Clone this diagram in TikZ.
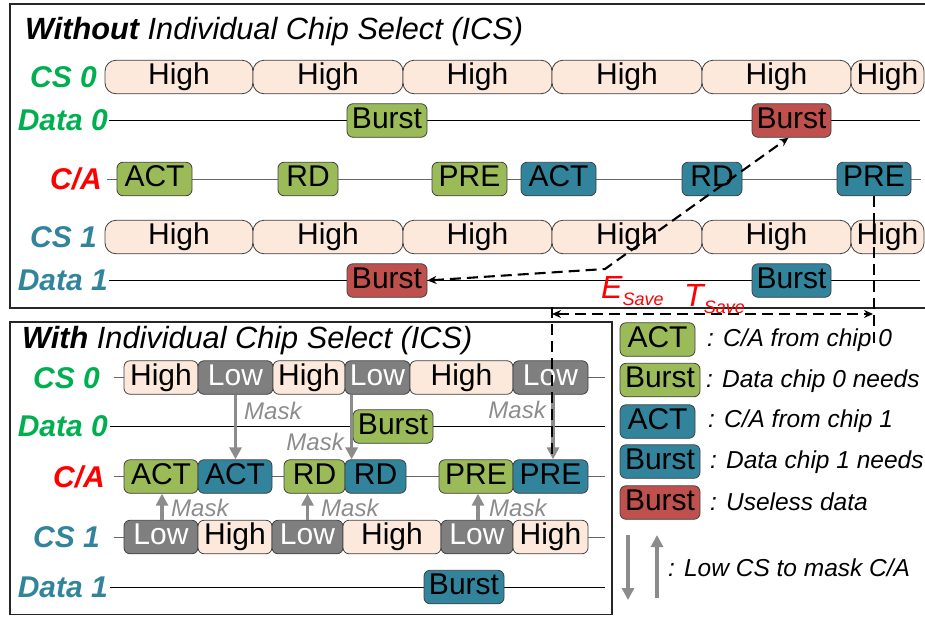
\documentclass[tikz,border=0pt]{standalone}
\usepackage{fontspec}
\setmainfont{Liberation Sans}
\usetikzlibrary{arrows.meta}

\definecolor{peach}{HTML}{FCE9DB}
\definecolor{chipolive}{HTML}{9BBB59}
\definecolor{chipteal}{HTML}{31849B}
\definecolor{chipred}{HTML}{C0504D}
\definecolor{lowgray}{HTML}{7F7F7F}
\definecolor{maskgray}{HTML}{8C8C8C}
\definecolor{csgreen}{HTML}{00B050}
\definecolor{boxline}{HTML}{404040}
\definecolor{framecol}{HTML}{262626}

\tikzset{
  sig/.style={draw=boxline, line width=0.8pt, inner sep=0pt, minimum height=33.5pt,
    text height=21.5pt, text depth=6pt, font=\fontsize{30}{30}\selectfont, rounded corners=6pt},
  hibig/.style={sig, fill=peach, rounded corners=11pt},
  hi/.style={sig, fill=peach},
  lo/.style={sig, fill=lowgray, text=white},
  cz/.style={sig, fill=chipolive},
  co/.style={sig, fill=chipteal},
  bad/.style={sig, fill=chipred},
  rowlbl/.style={anchor=east, inner sep=0pt, text height=21.5pt, text depth=0pt,
    font=\fontsize{30}{30}\selectfont\bfseries\itshape},
  wire/.style={line width=0.9pt, draw=black},
  cawire/.style={line width=0.9pt, draw=boxline!80},
  frame/.style={line width=1.4pt, draw=framecol},
  ttl/.style={anchor=base west, inner sep=0pt, font=\fontsize{30.7}{30.7}\selectfont\itshape},
  mask/.style={draw=maskgray, line width=3.6pt, -{Triangle[length=12pt,width=12pt]}},
  masktxt/.style={text=maskgray, inner sep=0pt, font=\fontsize{24}{24}\selectfont\itshape},
  legtxt/.style={anchor=west, inner sep=0pt, font=\fontsize{24.5}{24.5}\selectfont\itshape},
  dashline/.style={line width=2.1pt, dash pattern=on 11pt off 6pt},
  dasharr/.style={dashline, {Stealth[length=9pt,width=8pt]}-{Stealth[length=9pt,width=8pt]}},
  savetxt/.style={anchor=base west, inner sep=0pt, text=red, font=\fontsize{32}{32}\selectfont\itshape}
}

\begin{document}
\begin{tikzpicture}[x=1pt,y=-1pt]
\useasboundingbox (0,0) rectangle (925,616);

% ---------- panel frames ----------
\draw[frame] (926,4) -- (10,4) -- (10,308) -- (926,308);
\draw[frame] (10,322) rectangle (612,614.5);

% ================= without ICS =================
\node[ttl] (ttop) at (25,39) {{\bfseries Without} Individual Chip Select (ICS)};

\node[rowlbl, text=csgreen]  (tcs0) at (97,77)  {CS 0};
\node[rowlbl, text=csgreen]  (td0)  at (108,120) {Data 0};
\node[rowlbl, text=red]      (tca)  at (102,179) {C/A};
\node[rowlbl, text=chipteal] (tcs1) at (97,237) {CS 1};
\node[rowlbl, text=chipteal] (td1)  at (108,280) {Data 1};

\coordinate (td0end) at (920,120);
\coordinate (tcaend) at (921,179);
\coordinate (td1end) at (920,280);
\draw[wire]   ([xshift=1pt]td0.east) -- (td0end);
\draw[cawire] ([xshift=5pt]tca.east) -- (tcaend);
\draw[wire]   ([xshift=1pt]td1.east) -- (td1end);

% chip selects held high
\foreach \cx/\w [count=\i] in {179/148, 328/150, 477.5/149, 627/150, 776.5/149, 887.5/73} {
  \node[hibig, minimum width=\w pt] (hz\i) at (\cx,77) {High};
  \node[hibig, minimum width=\w pt] (hy\i) at (\cx,237) {High};
}

% data bursts
\node[cz,  minimum width=80pt] (tb0g) at (387,120.5)   {Burst};
\node[bad, minimum width=79pt] (tb0r) at (791.5,120.5) {Burst};
\node[bad, minimum width=80pt] (tb1r) at (387,280.5)   {Burst};
\node[co,  minimum width=79pt] (tb1t) at (791.5,280.5) {Burst};

% command / address bus
\node[cz, minimum width=75pt] (tact0) at (154.5,179) {ACT};
\node[cz, minimum width=60pt] (trd0)  at (308,179)   {RD};
\node[cz, minimum width=75pt] (tpre0) at (469.5,179) {PRE};
\node[co, minimum width=75pt] (tact1) at (558.5,179) {ACT};
\node[co, minimum width=60pt] (trd1)  at (712,179)   {RD};
\node[co, minimum width=74pt] (tpre1) at (874,179)   {PRE};

% ================= with ICS =================
\node[ttl] (tbot) at (22,348) {{\bfseries With} Individual Chip Select (ICS)};

\node[rowlbl, text=csgreen]  (bcs0) at (100,377.5) {CS 0};
\node[rowlbl, text=csgreen]  (bd0)  at (108,426)   {Data 0};
\node[rowlbl, text=red]      (bca)  at (105,476.5) {C/A};
\node[rowlbl, text=chipteal] (bcs1) at (100,537)   {CS 1};
\node[rowlbl, text=chipteal] (bd1)  at (108,587)   {Data 1};

\coordinate (bcs0end) at (605,377.5);
\coordinate (bd0end)  at (605,426);
\coordinate (bcaend)  at (605,476.5);
\coordinate (bcs1end) at (605,537);
\coordinate (bd1end)  at (605,587);
\draw[cawire] ([xshift=14pt]bcs0.east) -- (bcs0end);
\draw[wire]   ([xshift=2pt]bd0.east)   -- (bd0end);
\draw[cawire] ([xshift=9pt]bca.east)   -- (bcaend);
\draw[cawire] ([xshift=14pt]bcs1.east) -- (bcs1end);
\draw[wire]   ([xshift=2pt]bd1.east)   -- (bd1end);

% CS 0
\node[hi, minimum width=74pt]  (bhi1) at (161,377.5)   {High};
\node[lo, minimum width=75pt]  (blo1) at (235.5,377.5) {Low};
\node[hi, minimum width=72pt]  (bhi2) at (309,377.5)   {High};
\node[lo, minimum width=65pt]  (blo2) at (377.5,377.5) {Low};
\node[hi, minimum width=103pt] (bhi3) at (461.5,377.5) {High};
\node[lo, minimum width=75pt]  (blo3) at (550.5,377.5) {Low};

% Data 0
\node[cz, minimum width=80pt] (bb0) at (393,426.5) {Burst};

% C/A
\node[cz, minimum width=74pt] (bact0) at (161,476.5)   {ACT};
\node[co, minimum width=74pt] (bact1) at (235,476.5)   {ACT};
\node[cz, minimum width=61pt] (brd0)  at (314.5,476.5) {RD};
\node[co, minimum width=61pt] (brd1)  at (375.5,476.5) {RD};
\node[cz, minimum width=74pt] (bpre0) at (476,476.5)   {PRE};
\node[co, minimum width=75pt] (bpre1) at (550.5,476.5) {PRE};

% CS 1
\node[lo, minimum width=74pt] (clo1) at (161,537)   {Low};
\node[hi, minimum width=74pt] (chi1) at (235,537)   {High};
\node[lo, minimum width=71pt] (clo2) at (307.5,537) {Low};
\node[hi, minimum width=98pt] (chi2) at (392,537)   {High};
\node[lo, minimum width=72pt] (clo3) at (477,537)   {Low};
\node[hi, minimum width=75pt] (chi3) at (550.5,537) {High};

% Data 1
\node[co, minimum width=80pt] (bb1) at (464,587) {Burst};

% masking arrows from the low chip selects
\draw[mask] (blo1.south) -- (blo1.south |- bact1.north);
\draw[mask] ([xshift=7pt]brd1.north west |- blo2.south) -- ([xshift=7pt]brd1.north west);
\draw[mask] ([xshift=2.5pt]bpre1.north |- blo3.south) -- ([xshift=2.5pt]bpre1.north);
\draw[mask] ([xshift=1pt]clo1.north) -- ([xshift=1pt]clo1.north |- bact0.south);
\draw[mask] (clo2.north) -- (clo2.north |- brd0.south);
\draw[mask] ([xshift=1pt]clo3.north) -- ([xshift=1pt]clo3.north |- bpre0.south);

\node[masktxt, anchor=west] (m1) at (244,411) {Mask};
\node[masktxt, anchor=east] (m2) at (344,442) {Mask};
\node[masktxt, anchor=east] (m3) at (546,410) {Mask};
\node[masktxt, anchor=west] (m4) at (171,508) {Mask};
\node[masktxt, anchor=west] (m5) at (321,508) {Mask};
\node[masktxt, anchor=west] (m6) at (489,508) {Mask};

% ================= legend =================
\node[cz,  minimum width=75pt] (lg1) at (657.5,339.5) {ACT};
\node[cz,  minimum width=80pt] (lg2) at (660,380)     {Burst};
\node[co,  minimum width=75pt] (lg3) at (657.5,421.5) {ACT};
\node[co,  minimum width=80pt] (lg4) at (660,461.5)   {Burst};
\node[bad, minimum width=80pt] (lg5) at (660,502.5)   {Burst};
\node[legtxt] (lt1) at (707,340) {: C/A from chip 0};
\node[legtxt] (lt2) at (706,381) {: Data chip 0 needs};
\node[legtxt] (lt3) at (708,421) {: C/A from chip 1};
\node[legtxt] (lt4) at (710,462) {: Data chip 1 needs};
\node[legtxt] (lt5) at (710,502) {: Useless data};

\coordinate (la1) at (628,535);
\coordinate (la2) at (628,600);
\coordinate (lb1) at (657,598);
\coordinate (lb2) at (657,535);
\draw[mask] (la1) -- (la2);
\draw[mask] (lb1) -- (lb2);
\node[legtxt] (lt6) at (668,568) {: Low CS to mask C/A};

% ================= savings annotations =================
\coordinate (kink) at (605,269);
\draw[dasharr] (tb1r.east) -- (kink) -- ([xshift=-3pt]tb0r.south);

\coordinate (tstop) at (552,307);
\coordinate (tsbot) at (873,345);
\coordinate (tsl) at (552,314);
\coordinate (tsr) at (873,314);
\draw[dashline] (tstop) -- (tstop |- bpre1.north);
\draw[dashline] (tpre1.south) -- (tpre1.south |- tsbot);
\draw[dasharr] (tsl) -- (tsr);

\node[savetxt] (esave) at (601,298) {E\raisebox{-7pt}{\fontsize{18}{18}\selectfont Save}};
\node[savetxt] (tsave) at (684,306) {T\raisebox{-7pt}{\fontsize{18}{18}\selectfont Save}};

\end{tikzpicture}
\end{document}
